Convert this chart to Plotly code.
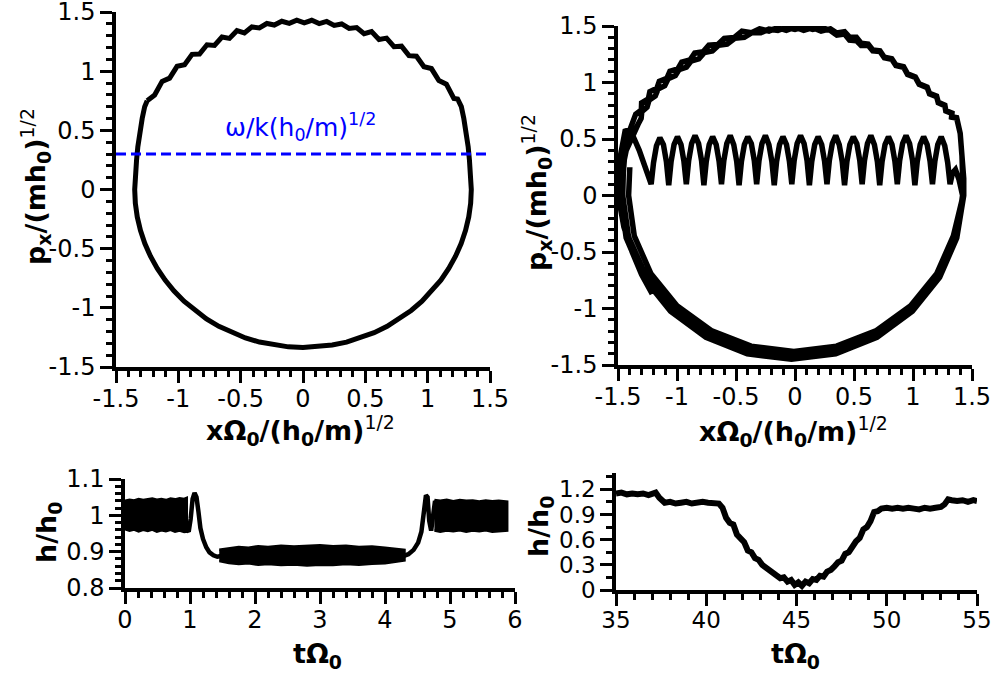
import numpy as np
import plotly.graph_objects as go

# ---------------- data ----------------
# Top-left: phase-space trajectory px vs x (single loop)
tl_x = [-1.25, -1.19, -1.13, -1.07, -1.01, -0.95, -0.89, -0.83, -0.77, -0.71, -0.65, -0.59, -0.53,
        -0.47, -0.41, -0.35, -0.29, -0.23, -0.17, -0.11, -0.05, 0.01, 0.07, 0.13, 0.19, 0.25, 0.31,
        0.37, 0.43, 0.49, 0.55, 0.61, 0.67, 0.73, 0.79, 0.85, 0.91, 0.97, 1.03, 1.09, 1.15, 1.21, 1.24,
        1.27, 1.29, 1.31, 1.325, 1.335, 1.345,
        1.35, 1.3449, 1.3295, 1.3040, 1.2686, 1.2235, 1.1691, 1.1059, 1.0341, 0.9546, 0.8678, 0.7744,
        0.675, 0.5705, 0.4617, 0.3494, 0.2344, 0.1177, 0.0, -0.1177, -0.2344, -0.3494, -0.4617, -0.5705,
        -0.675, -0.7744, -0.8678, -0.9546, -1.0341, -1.1059, -1.1691, -1.2235, -1.2686, -1.3040, -1.3295,
        -1.3449, -1.35,
        -1.345, -1.335, -1.325, -1.31, -1.29, -1.27, -1.25]
tl_y = [0.750, 0.798, 0.914, 0.941, 1.041, 1.054, 1.142, 1.145, 1.223, 1.218, 1.289, 1.277, 1.342,
        1.323, 1.374, 1.366, 1.403, 1.390, 1.422, 1.404, 1.431, 1.408, 1.430, 1.402, 1.420, 1.387, 1.399,
        1.361, 1.368, 1.316, 1.334, 1.268, 1.279, 1.207, 1.211, 1.131, 1.126, 1.037, 1.022, 0.920, 0.890,
        0.770, 0.765,
        0.70, 0.60, 0.48, 0.36, 0.25, 0.12,
        0.0, -0.1164, -0.2318, -0.3455, -0.4566, -0.5642, -0.6675, -0.7658, -0.8581, -0.9440, -1.0226,
        -1.0936, -1.1561, -1.2099, -1.2545, -1.2895, -1.3147, -1.3299, -1.335, -1.3299, -1.3147, -1.2895,
        -1.2545, -1.2099, -1.1561, -1.0936, -1.0226, -0.9440, -0.8581, -0.7658, -0.6675, -0.5642, -0.4566,
        -0.3455, -0.2318, -0.1164, 0.0,
        0.12, 0.25, 0.36, 0.48, 0.60, 0.70, 0.75]
wave_level = 0.3   # omega/k (h0/m)^1/2

# Top-right trajectory, in the order it is travelled
tr_start_x = [-1.21, -1.30, -1.38, -1.45, -1.49, -1.495, -1.48, -1.46, -1.44, -1.41, -1.37, -1.32, -1.27]
tr_start_y = [-0.87, -0.70, -0.50, -0.28, -0.05, 0.15, 0.35, 0.50, 0.57, 0.58, 0.52, 0.40, 0.26]

tr_saw_x = [-1.219,
            -1.199, -1.174, -1.145, -1.115, -1.090, -1.070,
            -1.050, -1.025, -0.996, -0.966, -0.941, -0.921,
            -0.901, -0.876, -0.847, -0.817, -0.792, -0.772,
            -0.752, -0.727, -0.698, -0.668, -0.643, -0.623,
            -0.603, -0.578, -0.549, -0.519, -0.494, -0.474,
            -0.454, -0.429, -0.400, -0.370, -0.345, -0.325,
            -0.305, -0.280, -0.251, -0.221, -0.196, -0.176,
            -0.156, -0.131, -0.102, -0.072, -0.047, -0.027,
            -0.007, 0.018, 0.047, 0.077, 0.102, 0.122,
            0.142, 0.167, 0.196, 0.226, 0.251, 0.271,
            0.291, 0.316, 0.345, 0.375, 0.400, 0.420,
            0.440, 0.465, 0.494, 0.524, 0.549, 0.569,
            0.589, 0.614, 0.643, 0.673, 0.698, 0.718,
            0.738, 0.763, 0.792, 0.822, 0.847, 0.867,
            0.887, 0.912, 0.941, 0.971, 0.996, 1.016,
            1.036, 1.061, 1.090, 1.120, 1.145, 1.165,
            1.185, 1.210, 1.239, 1.269, 1.294, 1.314,
            1.335, 1.36, 1.39, 1.41]
tr_saw_y = [0.10,
            0.29, 0.44, 0.51, 0.45, 0.30, 0.09,
            0.30, 0.45, 0.52, 0.45, 0.30, 0.10,
            0.31, 0.46, 0.53, 0.46, 0.31, 0.09,
            0.30, 0.45, 0.52, 0.45, 0.30, 0.10,
            0.31, 0.46, 0.53, 0.45, 0.30, 0.09,
            0.30, 0.45, 0.52, 0.46, 0.31, 0.10,
            0.31, 0.46, 0.53, 0.45, 0.30, 0.09,
            0.30, 0.45, 0.52, 0.45, 0.30, 0.10,
            0.31, 0.46, 0.53, 0.46, 0.31, 0.09,
            0.30, 0.45, 0.52, 0.45, 0.30, 0.10,
            0.31, 0.46, 0.53, 0.45, 0.30, 0.09,
            0.30, 0.45, 0.52, 0.46, 0.31, 0.10,
            0.31, 0.46, 0.53, 0.45, 0.30, 0.09,
            0.30, 0.45, 0.52, 0.45, 0.30, 0.10,
            0.31, 0.46, 0.53, 0.46, 0.31, 0.09,
            0.30, 0.45, 0.52, 0.45, 0.30, 0.10,
            0.30, 0.45, 0.52, 0.44, 0.29, 0.10,
            0.20, 0.23, 0.14, 0.03]

tr_low1_x = [1.42, 1.371, 1.227, 0.998, 0.700, 0.353, -0.02, -0.393, -0.740, -1.038, -1.267, -1.411,
             -1.46, -1.455, -1.44, -1.41, -1.38]
tr_low1_y = [0.0, -0.365, -0.705, -0.997, -1.221, -1.362, -1.41, -1.362, -1.221, -0.997, -0.705, -0.365,
             0.0, 0.20, 0.40, 0.55, 0.65]

tr_upA_x = [-1.35, -1.302, -1.30, -1.243, -1.23, -1.170, -1.15, -1.086, -1.06, -0.993, -0.96, -0.890,
            -0.85, -0.777, -0.73, -0.654, -0.60, -0.516, -0.45, -0.369, -0.30, -0.221, -0.15, -0.074,
            0.0, 0.074, 0.15, 0.221, 0.30, 0.354, 0.42, 0.462, 0.52, 0.560, 0.62, 0.659, 0.72, 0.757,
            0.82, 0.855, 0.92, 0.954, 1.02, 1.052, 1.12, 1.140, 1.20, 1.214, 1.27, 1.278, 1.33, 1.327,
            1.37, 1.40, 1.42, 1.43, 1.43]
tr_upA_y = [0.72, 0.757, 0.82, 0.855, 0.92, 0.949, 1.01, 1.037, 1.10, 1.121, 1.18, 1.199, 1.26, 1.273,
            1.33, 1.337, 1.39, 1.398, 1.455, 1.440, 1.475, 1.455, 1.485, 1.462, 1.49, 1.462, 1.485, 1.455,
            1.475, 1.438, 1.45, 1.401, 1.40, 1.347, 1.34, 1.288, 1.28, 1.224, 1.21, 1.155, 1.14, 1.076,
            1.05, 0.988, 0.96, 0.904, 0.88, 0.826, 0.80, 0.752, 0.73, 0.698, 0.69, 0.55, 0.35, 0.15, 0.0]

tr_low2_x = [1.371, 1.226, 0.995, 0.695, 0.345, -0.03, -0.405, -0.755, -1.055, -1.286, -1.431, -1.48,
             -1.47, -1.43, -1.37, -1.33]
tr_low2_y = [-0.375, -0.725, -1.025, -1.256, -1.401, -1.45, -1.401, -1.256, -1.025, -0.725, -0.375, 0.0,
             0.20, 0.40, 0.55, 0.63]

tr_upB_x = [-1.304, -1.298, -1.254, -1.237, -1.184, -1.161, -1.104, -1.075, -1.014, -0.982, -0.92, -0.881,
            -0.815, -0.769, -0.70, -0.647, -0.575, -0.510, -0.43, -0.365, -0.29, -0.221, -0.145, -0.074,
            0.0, 0.076, 0.15, 0.228, 0.30, 0.354, 0.42, 0.462, 0.52, 0.560, 0.62, 0.659, 0.72, 0.757,
            0.82, 0.855, 0.92, 0.954, 1.02, 1.052, 1.12, 1.140, 1.20, 1.214, 1.27, 1.278, 1.33, 1.327,
            1.37, 1.40, 1.415, 1.425, 1.425]
tr_upB_y = [0.682, 0.743, 0.782, 0.844, 0.882, 0.941, 0.972, 1.032, 1.062, 1.115, 1.135, 1.190, 1.21,
            1.264, 1.28, 1.330, 1.34, 1.391, 1.40, 1.441, 1.44, 1.472, 1.46, 1.487, 1.47, 1.492, 1.47, 1.487,
            1.46, 1.420, 1.43, 1.376, 1.37, 1.327, 1.33, 1.280, 1.275, 1.219, 1.205, 1.150, 1.135, 1.071,
            1.045, 0.983, 0.955, 0.899, 0.875, 0.821, 0.795, 0.747, 0.725, 0.693, 0.685, 0.55, 0.35, 0.15, 0.0]

tr_low3_x = [1.342, 1.202, 0.980, 0.690, 0.352, -0.01, -0.372, -0.710, -1.000, -1.222, -1.362, -1.41, -1.40]
tr_low3_y = [-0.357, -0.690, -0.976, -1.195, -1.333, -1.38, -1.333, -1.195, -0.976, -0.690, -0.357, 0.0, 0.25]

# Bottom-left: h/h0 vs t (envelopes of the fast oscillation bands + transitions)
bl_band1_t = [0.0, 0.07, 0.14, 0.21, 0.28, 0.35, 0.42, 0.49, 0.56, 0.63, 0.70, 0.77, 0.84, 0.91, 0.95]
bl_band1_hi = [1.040, 1.043, 1.041, 1.045, 1.042, 1.044, 1.046, 1.043, 1.045, 1.042, 1.046, 1.044, 1.047,
               1.045, 1.048]
bl_band1_lo = [0.962, 0.958, 0.961, 0.956, 0.960, 0.957, 0.961, 0.955, 0.959, 0.956, 0.960, 0.955, 0.958,
               0.954, 0.955]
bl_link1_t = [0.95, 0.98, 1.01, 1.04, 1.07, 1.10, 1.13, 1.16, 1.20, 1.25, 1.30, 1.36, 1.42, 1.48]
bl_link1_h = [0.96, 0.955, 0.99, 1.045, 1.062, 1.05, 1.01, 0.965, 0.935, 0.912, 0.898, 0.890, 0.886, 0.888]
bl_band2_t = [1.45, 1.6, 1.75, 1.9, 2.05, 2.2, 2.4, 2.6, 2.8, 3.0, 3.2, 3.4, 3.6, 3.8, 4.0, 4.15, 4.3]
bl_band2_hi = [0.905, 0.910, 0.913, 0.911, 0.915, 0.913, 0.916, 0.914, 0.917, 0.918, 0.915, 0.916, 0.913,
               0.914, 0.911, 0.909, 0.905]
bl_band2_lo = [0.874, 0.869, 0.866, 0.868, 0.864, 0.866, 0.863, 0.865, 0.862, 0.864, 0.863, 0.866, 0.864,
               0.867, 0.868, 0.871, 0.876]
bl_link2_t = [4.28, 4.36, 4.44, 4.51, 4.56, 4.60, 4.63, 4.655, 4.68, 4.71, 4.74, 4.77]
bl_link2_h = [0.888, 0.893, 0.905, 0.925, 0.955, 1.01, 1.055, 1.05, 0.985, 0.958, 1.00, 1.04]
bl_band3_t = [4.76, 4.85, 4.95, 5.05, 5.15, 5.25, 5.35, 5.45, 5.55, 5.65, 5.75, 5.88]
bl_band3_hi = [1.042, 1.040, 1.043, 1.039, 1.042, 1.040, 1.041, 1.038, 1.041, 1.039, 1.040, 1.038]
bl_band3_lo = [0.958, 0.955, 0.958, 0.956, 0.959, 0.955, 0.958, 0.956, 0.959, 0.955, 0.957, 0.958]

# Bottom-right: h/h0 vs t
br_t = [35.0, 35.3, 35.6, 35.9, 36.2, 36.5, 36.8, 37.0, 37.2, 37.4,
        37.7, 38.0, 38.3, 38.6, 38.9, 39.2, 39.5, 39.8, 40.1, 40.4, 40.7,
        40.9, 41.1, 41.3, 41.5, 41.7, 41.9, 42.1, 42.3, 42.5, 42.7, 42.9, 43.1, 43.3, 43.5, 43.7,
        43.9, 44.1, 44.3, 44.5, 44.7, 44.9, 45.1, 45.3, 45.5, 45.7, 45.9, 46.1, 46.3, 46.5, 46.7,
        46.9, 47.1, 47.3, 47.5, 47.7, 47.9, 48.1, 48.3, 48.5, 48.7, 48.9, 49.1, 49.3, 49.5, 49.7,
        50.0, 50.3, 50.6, 50.9, 51.2, 51.5, 51.8, 52.1, 52.4, 52.7, 53.0,
        53.2, 53.4, 53.6, 53.9, 54.2, 54.5, 54.8, 55.0]
br_h = [1.15, 1.16, 1.14, 1.15, 1.14, 1.15, 1.13, 1.15, 1.16, 1.10,
        1.04, 1.05, 1.03, 1.04, 1.05, 1.03, 1.04, 1.05, 1.04, 1.04, 1.03,
        0.98, 0.86, 0.80, 0.78, 0.66, 0.60, 0.57, 0.47, 0.45, 0.38, 0.36, 0.30, 0.27, 0.24, 0.20,
        0.19, 0.14, 0.15, 0.10, 0.12, 0.06, 0.09, 0.05, 0.10, 0.08, 0.13, 0.12, 0.17, 0.16, 0.22,
        0.24, 0.28, 0.33, 0.35, 0.43, 0.45, 0.53, 0.58, 0.62, 0.72, 0.75, 0.82, 0.93, 0.94, 0.97,
        0.98, 0.97, 0.98, 0.97, 0.98, 0.97, 0.96, 0.98, 0.97, 0.98, 0.99,
        1.02, 1.08, 1.07, 1.06, 1.07, 1.05, 1.07, 1.06]

# tick labels
phase_ticks = [-1.5, -1, -0.5, 0, 0.5, 1, 1.5]
phase_ticktext = ["-1.5", "-1", "-0.5", "0", "0.5", "1", "1.5"]
bl_xticks = [0, 1, 2, 3, 4, 5, 6]
bl_xticktext = ["0", "1", "2", "3", "4", "5", "6"]
bl_yticks = [0.8, 0.9, 1.0, 1.1]
bl_yticktext = ["0.8", "0.9", "1", "1.1"]
br_xticks = [35, 40, 45, 50, 55]
br_xticktext = ["35", "40", "45", "50", "55"]
br_yticks = [0, 0.3, 0.6, 0.9, 1.2]
br_yticktext = ["0", "0.3", "0.6", "0.9", "1.2"]

# ---------------- figure ----------------
W, H = 994, 677
BLACK = "black"
FONT = "DejaVu Sans"

def px_x(a, b):
    return [a / W, b / W]

def px_y(top, bottom):
    return [1 - bottom / H, 1 - top / H]

tr_x = tr_start_x + tr_saw_x + tr_low1_x + tr_upA_x + tr_low2_x + tr_upB_x + tr_low3_x
tr_y = tr_start_y + tr_saw_y + tr_low1_y + tr_upA_y + tr_low2_y + tr_upB_y + tr_low3_y

fig = go.Figure()

fig.add_trace(go.Scatter(x=tl_x, y=tl_y, mode="lines", line=dict(color=BLACK, width=5),
                         xaxis="x", yaxis="y"))
fig.add_trace(go.Scatter(x=[-1.5, 1.5], y=[wave_level, wave_level], mode="lines",
                         line=dict(color="#0000ff", width=3, dash="10px,5px"), xaxis="x", yaxis="y"))
fig.add_trace(go.Scatter(x=tr_x, y=tr_y, mode="lines", line=dict(color=BLACK, width=5.5),
                         xaxis="x2", yaxis="y2"))

for bt, hi, lo in [(bl_band1_t, bl_band1_hi, bl_band1_lo),
                   (bl_band2_t, bl_band2_hi, bl_band2_lo),
                   (bl_band3_t, bl_band3_hi, bl_band3_lo)]:
    fig.add_trace(go.Scatter(x=list(bt) + list(bt[::-1]), y=list(hi) + list(lo[::-1]),
                             mode="lines", fill="toself", fillcolor=BLACK,
                             line=dict(color=BLACK, width=2.5), xaxis="x3", yaxis="y3"))
for lt, lh in [(bl_link1_t, bl_link1_h), (bl_link2_t, bl_link2_h)]:
    fig.add_trace(go.Scatter(x=lt, y=lh, mode="lines", line=dict(color=BLACK, width=4.5),
                             xaxis="x3", yaxis="y3"))

fig.add_trace(go.Scatter(x=br_t, y=br_h, mode="lines", line=dict(color=BLACK, width=6),
                         xaxis="x4", yaxis="y4"))


def axis(domain, rng, tickvals, ticktext, minor_vals, anchor, fs=24, standoff=0):
    return dict(domain=domain, range=rng, anchor=anchor, automargin=False,
                tickmode="array", tickvals=tickvals, ticktext=ticktext,
                ticklabeloverflow="allow", ticklabelstandoff=standoff,
                showline=True, linecolor=BLACK, linewidth=3.5,
                ticks="outside", ticklen=12, tickwidth=3, tickcolor=BLACK,
                minor=dict(tickmode="array", tickvals=minor_vals, ticks="outside",
                           ticklen=6, tickwidth=3, tickcolor=BLACK, showgrid=False),
                showgrid=False, zeroline=False,
                tickfont=dict(family=FONT, size=fs, color=BLACK))

m_phase = list(np.round(np.arange(-1.5, 1.501, 0.1), 2))
m_blx = list(np.round(np.arange(0, 6.001, 0.2), 2))
m_bly = list(np.round(np.arange(0.8, 1.1001, 0.02), 3))
m_brx = list(np.arange(35, 56, 1))
m_bry = list(np.round(np.arange(0, 1.41, 0.15), 2))

fig.update_layout(
    width=W, height=H, margin=dict(l=0, r=0, t=0, b=0, autoexpand=False),
    paper_bgcolor="white", plot_bgcolor="white", showlegend=False,
    xaxis=axis(px_x(116, 490), [-1.5, 1.5], phase_ticks, phase_ticktext, m_phase, "y", standoff=-5),
    yaxis=axis(px_y(12, 367), [-1.5, 1.5], phase_ticks, phase_ticktext, m_phase, "x"),
    xaxis2=axis(px_x(618, 972), [-1.5, 1.5], phase_ticks, phase_ticktext, m_phase, "y2", standoff=-5),
    yaxis2=axis(px_y(26, 365), [-1.5, 1.5], phase_ticks, phase_ticktext, m_phase, "x2"),
    xaxis3=axis(px_x(125, 515), [0, 6], bl_xticks, bl_xticktext, m_blx, "y3", standoff=-5),
    yaxis3=axis(px_y(479, 588), [0.8, 1.1], bl_yticks, bl_yticktext, m_bly, "x3"),
    xaxis4=axis(px_x(616, 977), [35, 55], br_xticks, br_xticktext, m_brx, "y4", fs=23, standoff=-5),
    yaxis4=axis(px_y(472.5, 590), [0, 1.4], br_yticks, br_yticktext, m_bry, "x4", fs=23),
)

TF = dict(family=FONT, size=27, color=BLACK)
ytitle = "<b>p<sub>x</sub>/(mh<sub>0</sub>)</b><sup>1/2</sup>"
xtitle = "<b>xΩ<sub>0</sub>/(h<sub>0</sub>/m)</b><sup>1/2</sup>"
htitle = "<b>h/h<sub>0</sub></b>"
ttitle = "<b>tΩ<sub>0</sub></b>"
ann = [
    (xtitle, 300, 430, 0), (ytitle, 35, 187, -90),
    (xtitle, 793, 431, 0), (ytitle, 537, 193, -90),
    (ttitle, 317, 655, 0), (htitle, 48, 533, -90),
    (ttitle, 795, 655, 0), (htitle, 540, 527, -90),
]
for text, cx, cy, ang in ann:
    fig.add_annotation(text=text, x=cx / W, y=1 - cy / H, xref="paper", yref="paper",
                       showarrow=False, textangle=ang, font=TF, xanchor="center", yanchor="middle")

fig.add_annotation(text="ω/k(h<sub>0</sub>/m)<sup>1/2</sup>", x=-0.02, y=0.53, xref="x", yref="y",
                   showarrow=False, font=dict(family=FONT, size=25, color="#0000ff"),
                   xanchor="center", yanchor="middle")

# place the figure at the page's top-left corner (no default body margin), no mode bar
fig.write_html("out.html", config={"displayModeBar": False},
               post_script="document.body.style.margin='0px';")
